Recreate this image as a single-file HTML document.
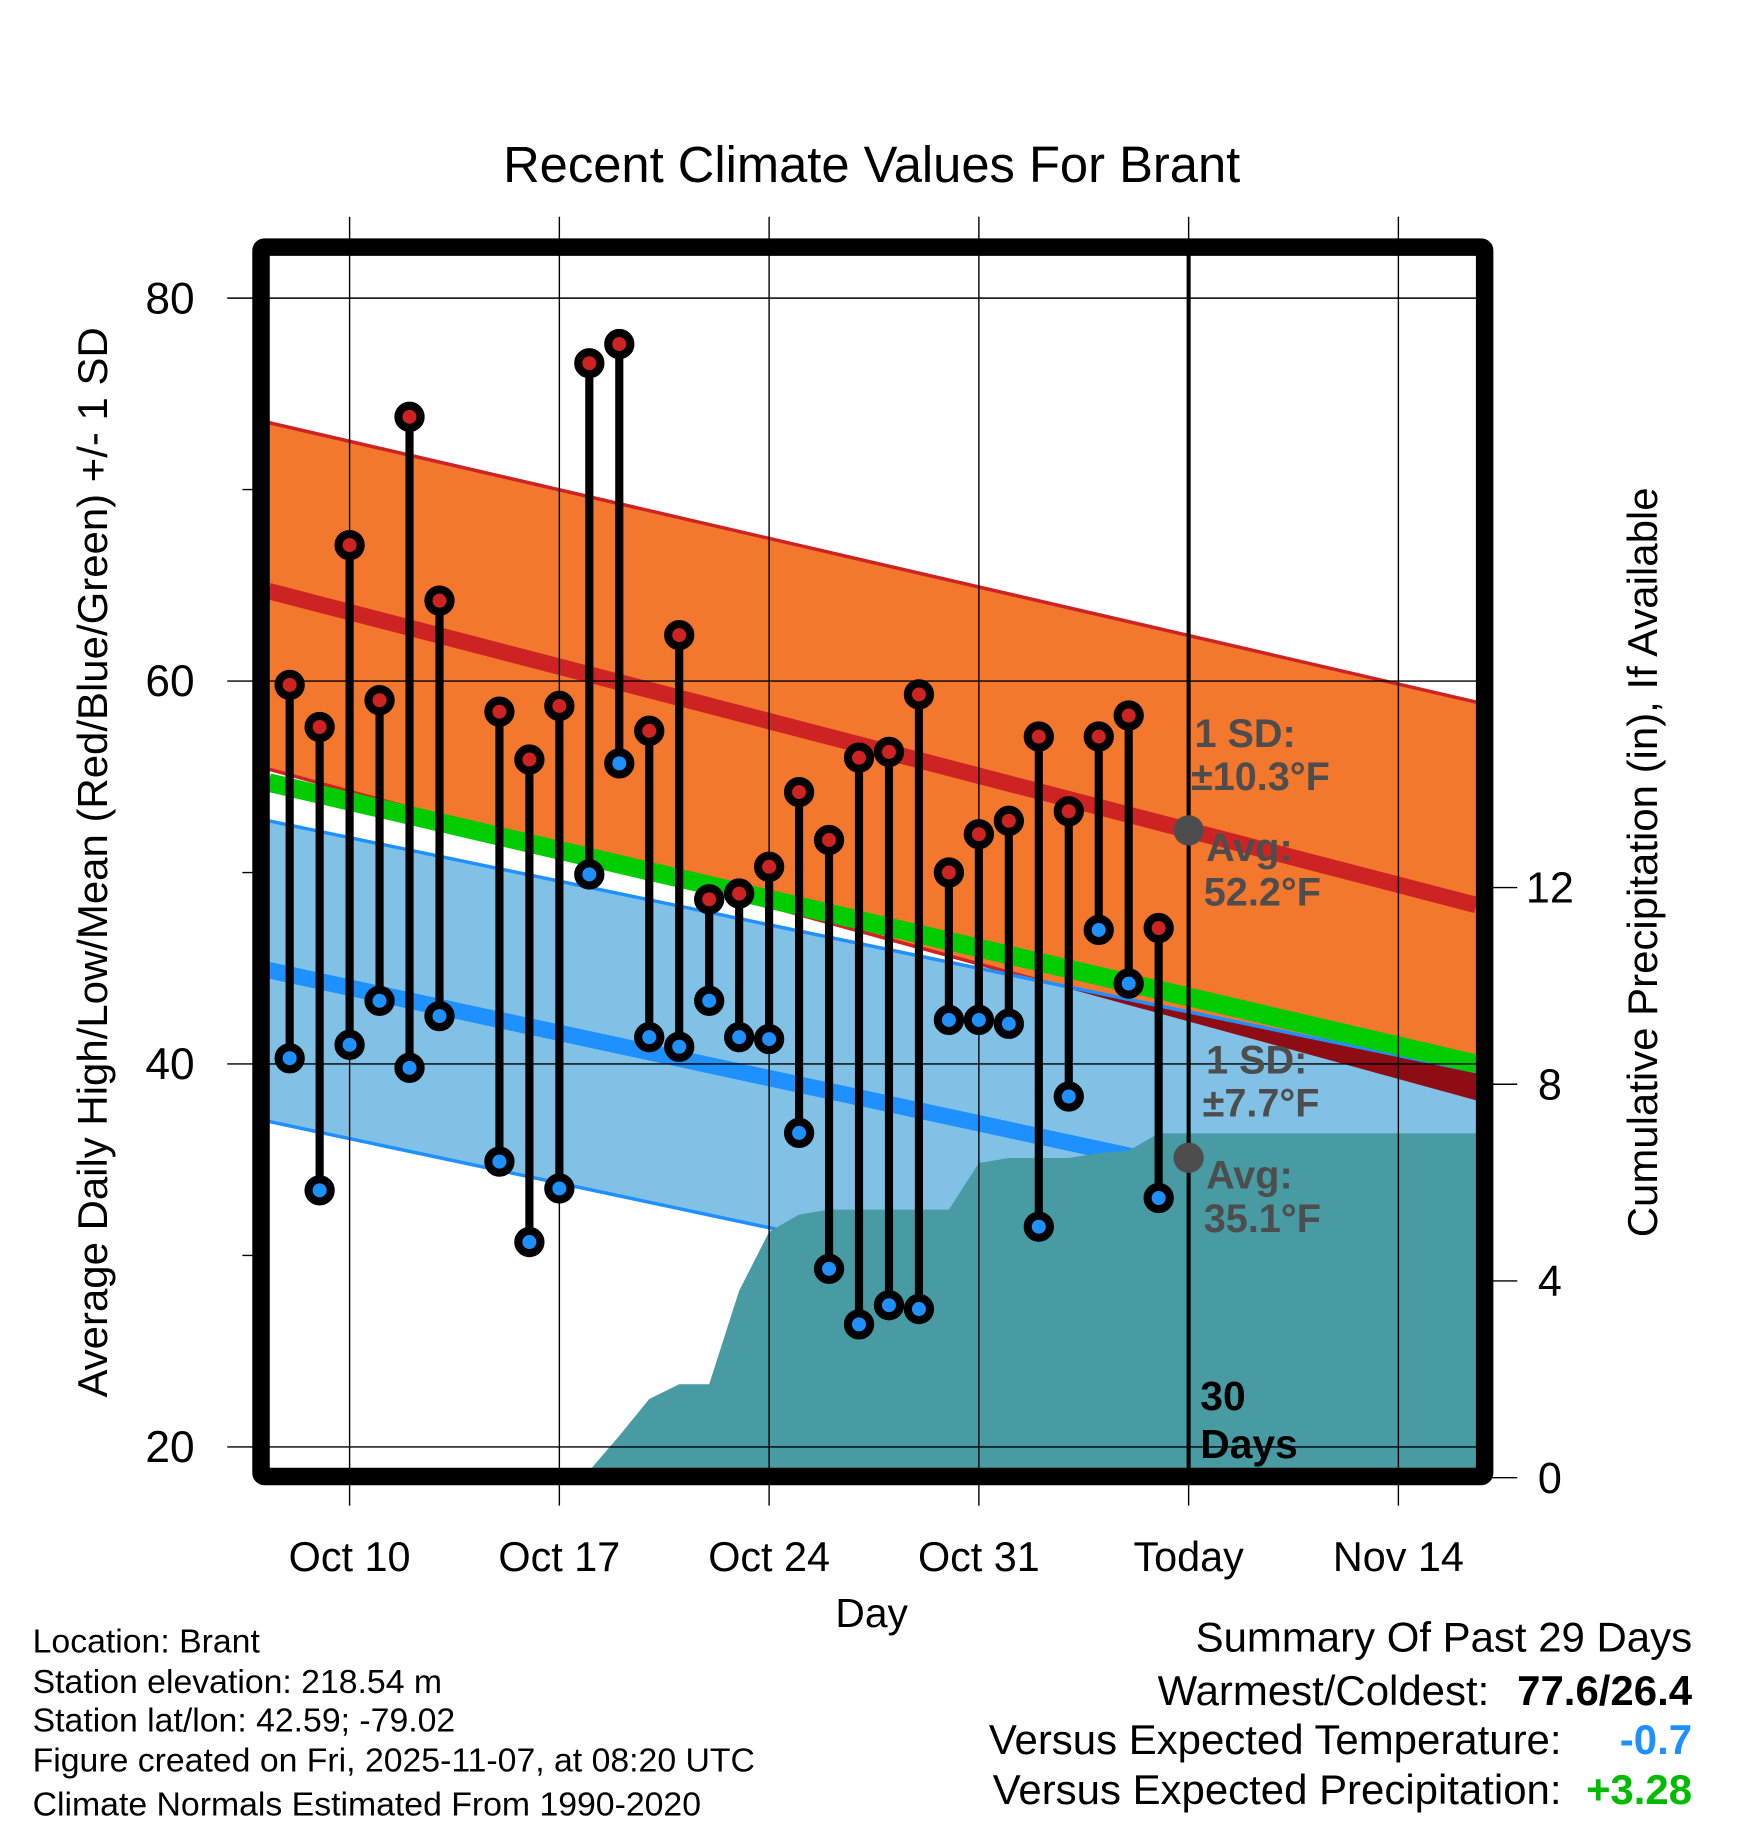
<!DOCTYPE html>
<html><head><meta charset="utf-8"><style>
html,body{margin:0;padding:0;background:#fff}
svg{display:block}
text{font-family:"Liberation Sans",sans-serif}
</style></head><body>
<svg id="chart" width="1748" height="1828" viewBox="0 0 1500 1568.6" xmlns="http://www.w3.org/2000/svg">
<defs><clipPath id="plotclip"><rect x="231" y="219" width="1036" height="1041"/></clipPath></defs>
<g id="layer"></g>
</svg>
<script>
// ---- data ----
const dayOffsets = [-2,-1,0,1,2,3,5,6,7,8,9,10,11,12,13,14,15,16,17,18,19,20,21,22,23,24,25,26,27]; // days from Oct 10
const highs = [59.8,57.6,67.1,59.0,73.8,64.2,58.4,55.9,58.7,76.6,77.6,57.4,62.4,48.6,48.9,50.3,54.2,51.7,56.0,56.3,59.3,50.0,52.0,52.7,57.1,53.2,57.1,58.2,47.1];
const lows  = [40.3,33.4,41.0,43.3,39.8,42.5,34.9,30.7,33.5,49.9,55.7,41.4,40.9,43.3,41.4,41.3,36.4,29.3,26.4,27.4,27.2,42.3,42.3,42.1,31.5,38.3,47.0,44.2,33.0];
const normalDays = [-2.7, 37.6];
const highPlusSD = [73.5, 58.9];
const highMean = [64.7, 48.3];
const highMinusSD = [55.4, 38.1];
const avgMean = [54.7, 40.0];
const lowPlusSD = [52.7, 39.6];
const lowMean = [44.9, 31.3];
const lowMinusSD = [37.0, 23.6];
const precipDays = [7.8,9,10,11,12,13,14,15,16,20,21,22,24,25,26,27,28,37.6];
const precipIn = [0,0.85,1.6,1.9,1.9,3.8,5.0,5.35,5.45,5.45,6.4,6.5,6.5,6.6,6.65,7.0,7.0,7.0];
const xTickDays = [0,7,14,21,28,35];
const xTickLabels = ["Oct 10","Oct 17","Oct 24","Oct 31","Today","Nov 14"];
const yTicks = [20,40,60,80];
const yMinor = [30,50,70];
const pTicks = [0,4,8,12];

// ---- axes ----
const X = d => 300 + 25.714*d;
const Y = t => 913 - (t-40)*16.43;
const P = p => 1268 - p*42.2;
const NS = "http://www.w3.org/2000/svg";
const layer = document.getElementById('layer');
function mk(tag, attrs, parent){ const e=document.createElementNS(NS,tag); for(const k in attrs) e.setAttribute(k,attrs[k]); (parent||layer).appendChild(e); return e; }
const plot = mk('g',{'clip-path':'url(#plotclip)'});


const xs = [X(normalDays[0]), X(normalDays[1])];
function band(top,bot){ return `${xs[0]},${Y(top[0])} ${xs[1]},${Y(top[1])} ${xs[1]},${Y(bot[1])} ${xs[0]},${Y(bot[0])}`; }
function line(vals,color,w,name){ const l=mk('line',{x1:xs[0],y1:Y(vals[0]),x2:xs[1],y2:Y(vals[1]),stroke:color,'stroke-width':w},plot);
  
   return l; }
let e = mk('polygon',{points:band(highPlusSD,highMinusSD),fill:'#f4772e'},plot);


line(highPlusSD,'#cd2323',3,'high-plus-sd-line');
line(highMinusSD,'#cd2323',3,'high-minus-sd-line');
line(highMean,'#cd2323',14,'high-mean-line');
e = mk('polygon',{points:band(lowPlusSD,lowMinusSD),fill:'#82c1e6'},plot);


mk('clipPath',{id:'hiclip'},plot).appendChild(document.createElementNS(NS,'polygon')).setAttribute('points',band(highPlusSD,highMinusSD));
e = mk('polygon',{points:band(lowPlusSD,lowMinusSD),fill:'#8e0d14','clip-path':'url(#hiclip)'},plot);


line(lowPlusSD,'#1e90ff',3,'low-plus-sd-line');
line(lowMinusSD,'#1e90ff',3,'low-minus-sd-line');
line(lowMean,'#1e90ff',14,'low-mean-line');
line(avgMean,'#00cc00',16,'avg-mean-line');
let pts = precipDays.map((d,i)=>`${X(d)},${P(precipIn[i])}`);
pts.push(`${X(precipDays[precipDays.length-1])},1275`,`${X(precipDays[0])},1275`);
e = mk('polygon',{points:pts.join(' '),fill:'#489aa3'},plot);


// grid
xTickDays.forEach((d,i)=>{
  const g = mk('line',{x1:X(d),y1:186,x2:X(d),y2:1292,stroke:'#000','stroke-width':1.2});
  
  
  if(i==4){
    const tl = mk('line',{x1:X(d),y1:212,x2:X(d),y2:1266,stroke:'#000','stroke-width':3.5});
    
    
  }
  const t = mk('text',{x:X(d),y:1348,'text-anchor':'middle','font-size':35.5});
  t.textContent = xTickLabels[i];
  
  
});
yTicks.forEach(v=>{
  const g = mk('line',{x1:195,y1:Y(v),x2:1267,y2:Y(v),stroke:'#000','stroke-width':1.2});
  
  
  const t = mk('text',{x:167,y:Y(v)+13,'text-anchor':'end','font-size':38});
  t.textContent = v;
  
  
});
yMinor.forEach(v=>{
  const g = mk('line',{x1:208,y1:Y(v),x2:224,y2:Y(v),stroke:'#000','stroke-width':1.2});
  
  
});
pTicks.forEach(v=>{
  const g = mk('line',{x1:1274,y1:P(v),x2:1302,y2:P(v),stroke:'#000','stroke-width':1.2});
  
  
  const t = mk('text',{x:1330,y:P(v)+13,'text-anchor':'middle','font-size':37});
  t.textContent = v;
  
  
});
// stems and dots
dayOffsets.forEach((d,i)=>{
  const x=X(d);
  const s = mk('line',{x1:x,y1:Y(highs[i]),x2:x,y2:Y(lows[i]),stroke:'#000','stroke-width':7});
  
  
});
dayOffsets.forEach((d,i)=>{
  const x=X(d);
  const h = mk('circle',{cx:x,cy:Y(highs[i]),r:9.5,fill:'#cd2323',stroke:'#000','stroke-width':7});
  
  
  const l = mk('circle',{cx:x,cy:Y(lows[i]),r:9.5,fill:'#1e90ff',stroke:'#000','stroke-width':7});
  
  
});
// average markers
e = mk('circle',{cx:X(28),cy:Y(52.2),r:13,fill:'#4d4d4d'});


e = mk('circle',{cx:X(28),cy:Y(35.1),r:13,fill:'#4d4d4d'});


// frame
e = mk('rect',{x:224,y:212,width:1050,height:1055,fill:'none',stroke:'#000','stroke-width':15,rx:3});


</script>
<svg style="position:absolute;left:0;top:0" width="1748" height="1828" viewBox="0 0 1500 1568.6" xmlns="http://www.w3.org/2000/svg" font-family="Liberation Sans, sans-serif">
<text x="748" y="156" text-anchor="middle" font-size="43.5">Recent Climate Values For Brant</text>
<text transform="translate(92,740) rotate(-90)" text-anchor="middle" font-size="36">Average Daily High/Low/Mean (Red/Blue/Green) +/- 1 SD</text>
<text transform="translate(1422,740) rotate(-90)" text-anchor="middle" font-size="36">Cumulative Precipitation (in), If Available</text>
<text x="748" y="1396" text-anchor="middle" font-size="35">Day</text>
<g font-weight="bold" font-size="34" fill="#4d4d4d">
<text x="1025" y="641">1 SD:</text>
<text x="1022" y="678">±10.3°F</text>
<text x="1035" y="739">Avg:</text>
<text x="1033" y="777">52.2°F</text>
<text x="1035" y="921">1 SD:</text>
<text x="1032" y="958">±7.7°F</text>
<text x="1035" y="1020">Avg:</text>
<text x="1033" y="1057">35.1°F</text>
</g>
<g font-weight="bold" font-size="35" fill="#000">
<text x="1030" y="1210">30</text>
<text x="1030" y="1251">Days</text>
</g>
<g font-size="29" fill="#000">
<text x="28" y="1418">Location: Brant</text>
<text x="28" y="1453">Station elevation: 218.54 m</text>
<text x="28" y="1486">Station lat/lon: 42.59; -79.02</text>
<text x="28" y="1520">Figure created on Fri, 2025-11-07, at 08:20 UTC</text>
<text x="28" y="1558">Climate Normals Estimated From 1990-2020</text>
</g>
<g font-size="36" fill="#000">
<text x="1452" y="1417" text-anchor="end">Summary Of Past 29 Days</text>
<text x="1278" y="1463" text-anchor="end">Warmest/Coldest:</text>
<text x="1452" y="1463" text-anchor="end" font-weight="bold">77.6/26.4</text>
<text x="1340" y="1505" text-anchor="end">Versus Expected Temperature:</text>
<text x="1452" y="1505" text-anchor="end" font-weight="bold" fill="#1e90ff">-0.7</text>
<text x="1340" y="1548" text-anchor="end">Versus Expected Precipitation:</text>
<text x="1452" y="1548" text-anchor="end" font-weight="bold" fill="#00bb00">+3.28</text>
</g>
</svg>
</body></html>
